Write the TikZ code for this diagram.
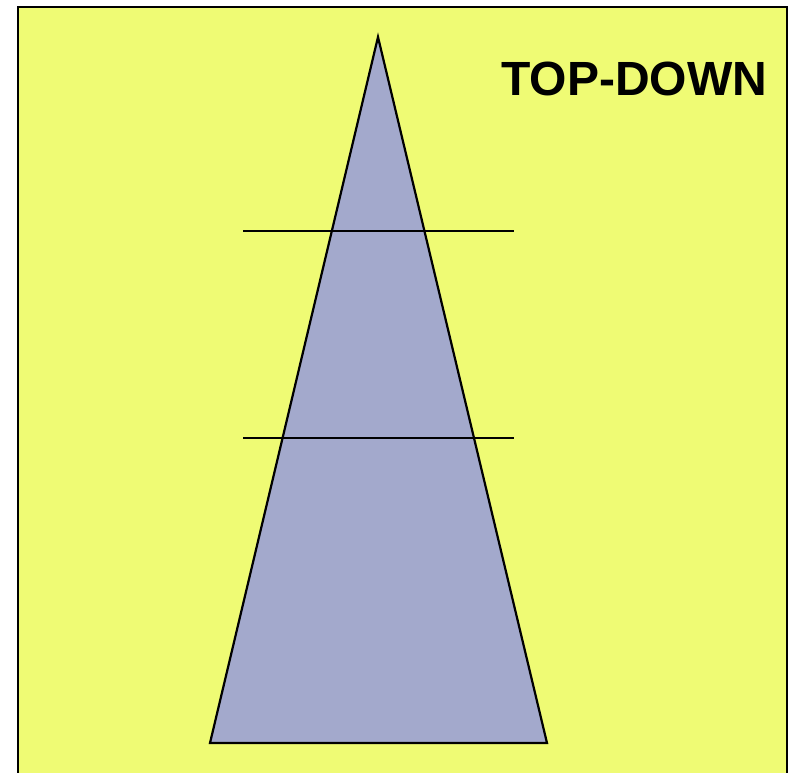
\documentclass[tikz,border=0pt]{standalone}
\usepackage{fontspec}
\setmainfont{Liberation Sans}
\definecolor{bgyellow}{HTML}{EFFB74}
\definecolor{trifill}{HTML}{A3A9CC}
\tikzset{
  panel/.style={fill=bgyellow, draw=black, line width=2.8pt},
  tri/.style={fill=trifill, draw=black, line width=2.2pt, line join=miter},
  level/.style={draw=black, line width=1.8pt},
  title/.style={font=\fontsize{48}{51}\selectfont\bfseries, inner sep=0pt}
}
\begin{document}
\begin{tikzpicture}[x=1pt,y=-1pt]
\useasboundingbox (0,0) rectangle (788,773);
\draw[panel] (18,7) -- (787,7) -- (787,790) -- (18,790) -- cycle;
\coordinate (apex) at (378,37);
\coordinate (bl) at (210,743);
\coordinate (br) at (547,743);
\draw[tri] (apex) -- (br) -- (bl) -- cycle;
\coordinate (l1a) at (243,231);
\coordinate (l1b) at (514,231);
\coordinate (l2a) at (243,438);
\coordinate (l2b) at (514,438);
\draw[level] (l1a) -- (l1b);
\draw[level] (l2a) -- (l2b);
\node[title, anchor=base west] (t) at (501,96) {TOP-DOWN};
\end{tikzpicture}
\end{document}
